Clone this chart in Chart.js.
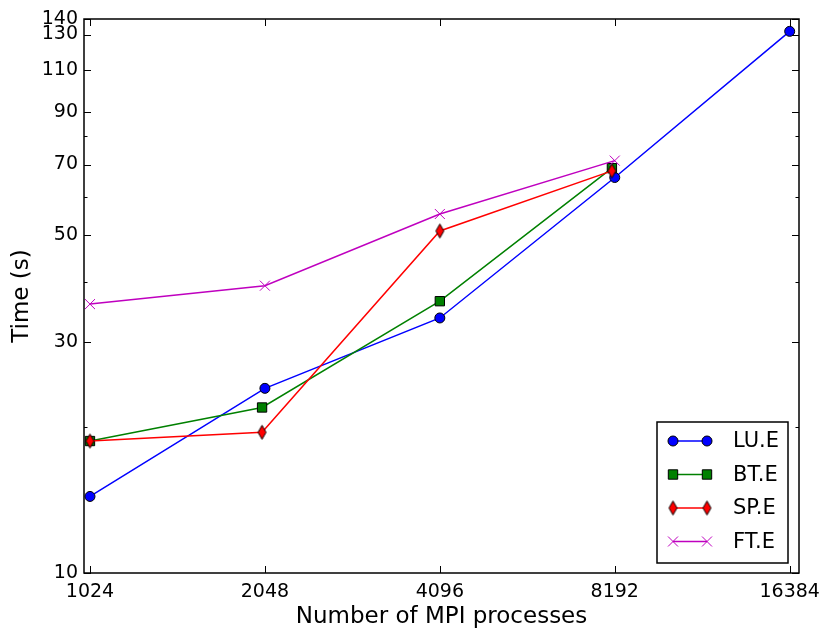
<!DOCTYPE html>
<html lang="en">
<head>
<meta charset="UTF-8">
<title>Time vs number of MPI processes</title>
<script src="https://cdn.jsdelivr.net/npm/chart.js"></script>
<style>
  html, body { margin: 0; padding: 0; background: #ffffff; }
  #wrap { width: 830px; height: 641px; }
</style>
</head>
<body>
<div id="wrap"><canvas id="timeChart" width="830" height="641"></canvas></div>
<script>
  // values
  const luProcs = [1024, 2048, 4096, 8192, 16384];
  const luTime = [14.4, 24.1, 33.7, 65.8, 132];
  const btProcs = [1024, 2025, 4096, 8100];
  const btTime = [18.75, 22.0, 36.5, 68.8];
  const spProcs = [1024, 2025, 4096, 8100];
  const spTime = [18.75, 19.55, 51.0, 67.9];
  const ftProcs = [1024, 2048, 4096, 8192];
  const ftTime = [36.0, 39.3, 55.3, 71.3];

  const xTicks = [1024, 2048, 4096, 8192, 16384];
  const yLabelTicks = [10, 30, 50, 70, 90, 110, 130, 140];
  const yMinorTicks = [20, 40, 60, 80];

  const FONT = 'DejaVu Sans';

  function thinDiamond(color) {
    const c = document.createElement('canvas');
    c.width = 11;
    c.height = 17;
    const g = c.getContext('2d');
    g.beginPath();
    g.moveTo(5.5, 1.5);
    g.lineTo(9.5, 8.5);
    g.lineTo(5.5, 15.5);
    g.lineTo(1.5, 8.5);
    g.closePath();
    g.fillStyle = color;
    g.fill();
    g.lineWidth = 1;
    g.strokeStyle = '#000';
    g.stroke();
    return c;
  }

  const diamondImg = thinDiamond('#ff0000');

  function toPoints(xs, ys) {
    return xs.map((x, i) => ({ x: x, y: ys[i] }));
  }

  const series = [
    { label: 'LU.E', xs: luProcs, ys: luTime, color: '#0000ff', marker: 'circle', order: 4 },
    { label: 'BT.E', xs: btProcs, ys: btTime, color: '#008000', marker: 'square', order: 3 },
    { label: 'SP.E', xs: spProcs, ys: spTime, color: '#ff0000', marker: 'diamond', order: 2 },
    { label: 'FT.E', xs: ftProcs, ys: ftTime, color: '#bf00bf', marker: 'cross', order: 1 }
  ];

  function datasetFor(s) {
    const ds = {
      label: s.label,
      data: toPoints(s.xs, s.ys),
      borderColor: s.color,
      borderWidth: 1.5,
      showLine: true,
      fill: false,
      tension: 0,
      order: s.order,
      pointBackgroundColor: s.color,
      pointBorderColor: '#000',
      pointBorderWidth: 1
    };
    if (s.marker === 'circle') {
      ds.pointStyle = 'circle';
      ds.pointRadius = 5;
    } else if (s.marker === 'square') {
      ds.pointStyle = 'rect';
      ds.pointRadius = 6.6;
    } else if (s.marker === 'diamond') {
      ds.pointStyle = diamondImg;
      ds.pointRadius = 7;
    } else {
      ds.pointStyle = 'crossRot';
      ds.pointRadius = 7.1;
      ds.pointBorderColor = s.color;
      ds.pointBorderWidth = 1;
    }
    return ds;
  }

  function drawMarker(ctx, kind, x, y, color) {
    ctx.save();
    ctx.lineWidth = 1;
    ctx.strokeStyle = '#000';
    ctx.fillStyle = color;
    if (kind === 'circle') {
      ctx.beginPath();
      ctx.arc(x, y, 5, 0, Math.PI * 2);
      ctx.fill();
      ctx.stroke();
    } else if (kind === 'square') {
      ctx.beginPath();
      ctx.rect(x - 4.7, y - 4.7, 9.4, 9.4);
      ctx.fill();
      ctx.stroke();
    } else if (kind === 'diamond') {
      ctx.drawImage(diamondImg, x - diamondImg.width / 2, y - diamondImg.height / 2);
    } else {
      ctx.strokeStyle = color;
      ctx.beginPath();
      ctx.moveTo(x - 5, y - 5); ctx.lineTo(x + 5, y + 5);
      ctx.moveTo(x - 5, y + 5); ctx.lineTo(x + 5, y - 5);
      ctx.stroke();
    }
    ctx.restore();
  }

  // frame, inward ticks on every side, and the matplotlib-style legend
  const framePlugin = {
    id: 'frame',
    afterDraw(chart) {
      const ctx = chart.ctx;
      const a = chart.chartArea;
      const xs = chart.scales.x;
      const ys = chart.scales.y;
      ctx.save();
      ctx.strokeStyle = '#000';
      ctx.lineWidth = 1;
      ctx.beginPath();
      xTicks.forEach(v => {
        const px = Math.round(xs.getPixelForValue(v)) + 0.5;
        ctx.moveTo(px, a.bottom); ctx.lineTo(px, a.bottom - 7);
        ctx.moveTo(px, a.top); ctx.lineTo(px, a.top + 7);
      });
      yLabelTicks.forEach(v => {
        const py = Math.round(ys.getPixelForValue(v)) + 0.5;
        ctx.moveTo(a.left, py); ctx.lineTo(a.left + 7, py);
        ctx.moveTo(a.right, py); ctx.lineTo(a.right - 7, py);
      });
      yMinorTicks.forEach(v => {
        const py = Math.round(ys.getPixelForValue(v)) + 0.5;
        ctx.moveTo(a.left, py); ctx.lineTo(a.left + 3.5, py);
        ctx.moveTo(a.right, py); ctx.lineTo(a.right - 3.5, py);
      });
      ctx.stroke();

      ctx.lineWidth = 1.5;
      ctx.strokeRect(a.left, a.top, a.right - a.left, a.bottom - a.top);

      // legend box
      const bx = a.right - 142, by = a.bottom - 151, bw = 131, bh = 141;
      ctx.fillStyle = '#fff';
      ctx.fillRect(bx, by, bw, bh);
      ctx.lineWidth = 1.5;
      ctx.strokeStyle = '#000';
      ctx.strokeRect(bx, by, bw, bh);
      ctx.font = '21px "' + FONT + '"';
      ctx.textBaseline = 'middle';
      ctx.textAlign = 'left';
      series.forEach((s, i) => {
        const ly = by + 19 + i * 33.5;
        const x1 = bx + 16, x2 = bx + 50;
        ctx.strokeStyle = s.color;
        ctx.lineWidth = 1.5;
        ctx.beginPath();
        ctx.moveTo(x1, ly); ctx.lineTo(x2, ly);
        ctx.stroke();
        drawMarker(ctx, s.marker, x1, ly, s.color);
        drawMarker(ctx, s.marker, x2, ly, s.color);
        ctx.fillStyle = '#000';
        ctx.fillText(s.label, bx + 76, ly + 1);
      });
      ctx.restore();
    }
  };

  new Chart(document.getElementById('timeChart'), {
    type: 'line',
    data: { datasets: series.map(datasetFor) },
    options: {
      responsive: false,
      animation: false,
      events: [],
      layout: { padding: { top: 19, right: 31, left: 0, bottom: 0 } },
      plugins: {
        legend: { display: false },
        tooltip: { enabled: false }
      },
      scales: {
        x: {
          type: 'logarithmic',
          min: 1000,
          max: 17000,
          grid: { display: false, drawTicks: false },
          border: { display: false },
          afterBuildTicks: scale => { scale.ticks = xTicks.map(v => ({ value: v })); },
          afterFit: scale => { scale.height = 68; },
          ticks: {
            padding: 8,
            color: '#000',
            maxRotation: 0,
            autoSkip: false,
            font: { family: FONT, size: 19 },
            callback: v => String(v)
          },
          title: {
            display: true,
            text: 'Number of MPI processes',
            color: '#000',
            font: { family: FONT, size: 23 },
            padding: { top: 0, bottom: 10 }
          }
        },
        y: {
          type: 'logarithmic',
          min: 10,
          max: 140,
          grid: { display: false, drawTicks: false },
          border: { display: false },
          afterBuildTicks: scale => {
            scale.ticks = yLabelTicks.concat(yMinorTicks).sort((p, q) => p - q).map(v => ({ value: v }));
          },
          afterFit: scale => { scale.width = 84; },
          ticks: {
            padding: 6,
            color: '#000',
            autoSkip: false,
            font: { family: FONT, size: 19 },
            callback: v => (yLabelTicks.includes(v) ? String(v) : '')
          },
          title: {
            display: true,
            text: 'Time (s)',
            color: '#000',
            font: { family: FONT, size: 23 },
            padding: { top: 8, bottom: 0 }
          }
        }
      }
    },
    plugins: [framePlugin]
  });
</script>
</body>
</html>
